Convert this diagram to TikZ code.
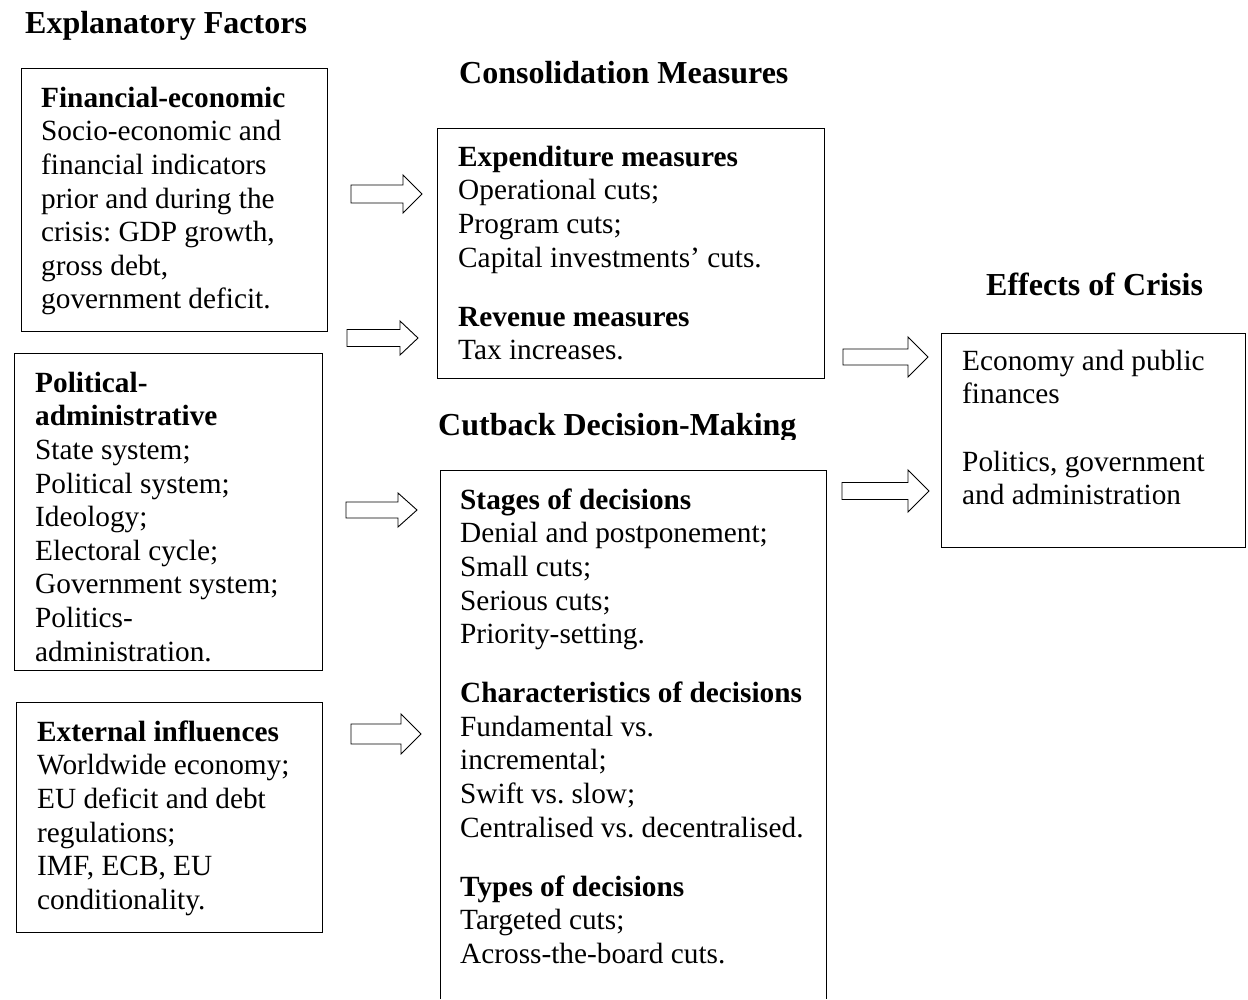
\documentclass[tikz,border=0pt]{standalone}
\usepackage{fontspec}
\setmainfont{Liberation Serif}
\frenchspacing
\newcommand{\fl}{\rule{0pt}{24pt}}
\tikzset{
  box/.style={draw=black, line width=0.9pt},
  txt/.style={anchor=north west, inner sep=0pt, align=left, font=\fontsize{29.3}{33.6}\selectfont\frenchspacing},
  hd/.style={anchor=base west, inner sep=0pt, font=\fontsize{32}{38}\selectfont\bfseries},
  barrow/.style={draw=black, line width=0.9pt, fill=white, line join=miter}
}
\newcommand{\blockarr}[6]{%
  \draw[barrow] (#1,#4-#5) -- (#2,#4-#5) -- (#2,#4-#6) -- (#3,#4) -- (#2,#4+#6) -- (#2,#4+#5) -- (#1,#4+#5) -- cycle;}
\begin{document}
\begin{tikzpicture}[x=1pt,y=-1pt]
\useasboundingbox (0,0) rectangle (1248,999);

% headings
\node[hd] (hexp) at (25,33) {Explanatory Factors};
\node[hd] (hcons) at (459,83) {Consolidation Measures};
\node[hd] (heff) at (986,295) {Effects of Crisis};
\begin{scope}
  \clip (0,0) rectangle (1248,439);
  \node[hd] (hcut) at (438,435) {Cutback Decision-Making};
\end{scope}

% boxes
\draw[box] (21,68) rectangle (327,331);
\draw[box] (14,353) rectangle (322,670);
\draw[box] (16,702) rectangle (322,932);
\draw[box] (437,128) rectangle (824,378);
\draw[box] (440,999) -- (440,470) -- (826,470) -- (826,999);
\draw[box] (941,333) rectangle (1245,547);

% texts
\node[txt] (fe) at (41,83) {\fl\textbf{Financial-economic}\\Socio-economic and\\financial indicators\\prior and during the\\crisis: GDP growth,\\gross debt,\\government deficit.};
\node[txt] (pa) at (35,368) {\fl\textbf{Political-}\\\textbf{administrative}\\State system;\\Political system;\\Ideology;\\Electoral cycle;\\Government system;\\Politics-\\administration.};
\node[txt] (ei) at (37,717) {\fl\textbf{External influences}\\Worldwide economy;\\EU deficit and debt\\regulations;\\IMF, ECB, EU\\conditionality.};
\node[txt] (cm) at (458,142) {\fl\textbf{Expenditure measures}\\Operational cuts;\\Program cuts;\\Capital investments’ cuts.\\[25.5pt]\textbf{Revenue measures}\\Tax increases.};
\node[txt] (cd) at (460,485) {\fl\textbf{Stages of decisions}\\Denial and postponement;\\Small cuts;\\Serious cuts;\\Priority-setting.\\[25.5pt]\textbf{Characteristics of decisions}\\Fundamental vs.\\incremental;\\Swift vs. slow;\\Centralised vs. decentralised.\\[25.5pt]\textbf{Types of decisions}\\Targeted cuts;\\Across-the-board cuts.};
\node[txt] (ec) at (962,346) {\fl Economy and public\\finances\\[33.6pt]Politics, government\\and administration};

% block arrows
\blockarr{351}{403}{422}{194}{9}{19}
\blockarr{347}{400}{418}{338}{8.5}{17}
\blockarr{346}{398}{417}{510}{8}{17}
\blockarr{351}{401}{421}{734}{10}{20}
\blockarr{843}{908}{928}{357}{8}{20}
\blockarr{842}{908}{929}{491}{8.5}{21}
\end{tikzpicture}
\end{document}
